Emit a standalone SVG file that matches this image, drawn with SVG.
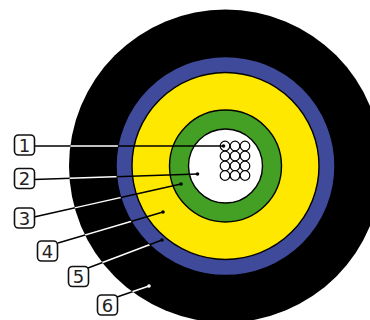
<svg xmlns="http://www.w3.org/2000/svg" width="370" height="320" viewBox="0 0 370 320">
<style>
.r{stroke:#000;stroke-width:1.400}
.s{fill:#fff;stroke:#000;stroke-width:1.200}
.l{stroke:#000;stroke-width:1.400;fill:none}
.w{stroke:#fff;stroke-width:1.400;fill:none}
.d{fill:#000}
.dw{fill:#fff}
.b{fill:#fff;stroke:#111;stroke-width:1.600}
.t{font-family:"DejaVu Sans",sans-serif;font-size:18px;fill:#222;text-anchor:middle}
</style>
<defs>
<clipPath id="ring"><path clip-rule="evenodd" d="M69 166a156.500 156.500 0 1 0 313 0a156.500 156.500 0 1 0-313 0ZM116 166a109.500 109.500 0 1 0 219 0a109.500 109.500 0 1 0-219 0Z"/></clipPath>
</defs>
<g id="cable">
<circle cx="225.500" cy="166" r="156.500" fill="#000"/>
<circle cx="225.500" cy="166" r="109.500" fill="#3f4a9b" class="r"/>
<circle cx="225.500" cy="166" r="93.500" fill="#ffe800" class="r"/>
<circle cx="225.500" cy="166" r="56" fill="#43a024" class="r"/>
<circle cx="225.500" cy="166" r="37" fill="#fff" class="r"/>
</g>
<g id="fibres">
<circle class="s" cx="225" cy="146" r="4.800"/><circle class="s" cx="235" cy="146" r="4.800"/><circle class="s" cx="245" cy="146" r="4.800"/>
<circle class="s" cx="225" cy="156" r="4.800"/><circle class="s" cx="235" cy="156" r="4.800"/><circle class="s" cx="245" cy="156" r="4.800"/>
<circle class="s" cx="225" cy="166" r="4.800"/><circle class="s" cx="235" cy="166" r="4.800"/><circle class="s" cx="245" cy="166" r="4.800"/>
<circle class="s" cx="225" cy="175.500" r="4.800"/><circle class="s" cx="235" cy="175.500" r="4.800"/><circle class="s" cx="245" cy="175.500" r="4.800"/>
</g>
<g id="connectors">
<path class="l" d="M34 146H223"/>
<path class="l" d="M34 179.500L197.500 174"/>
<path class="l" d="M34 217L181 184"/>
<path class="l" d="M58 243L163 212"/>
<path class="l" d="M88 268L162 240"/>
<path class="l" d="M117 297L149 286"/>
<g clip-path="url(#ring)">
<path class="w" d="M34 146H223"/>
<path class="w" d="M34 179.500L197.500 174"/>
<path class="w" d="M34 217L181 184"/>
<path class="w" d="M58 243L163 212"/>
<path class="w" d="M88 268L162 240"/>
<path class="w" d="M117 297L149 286"/>
</g>
<circle class="d" cx="223.500" cy="146" r="1.800"/>
<circle class="d" cx="197.500" cy="174" r="1.800"/>
<circle class="d" cx="181" cy="184" r="1.800"/>
<circle class="d" cx="163" cy="212" r="1.800"/>
<circle class="d" cx="162" cy="240" r="1.800"/>
<circle class="dw" cx="149" cy="286" r="1.800"/>
</g>
<g id="label-1"><rect class="b" x="14.500" y="135" width="20" height="20" rx="4"/><text class="t" x="24.500" y="151.500">1</text></g>
<g id="label-2"><rect class="b" x="14.500" y="168.500" width="20" height="20" rx="4"/><text class="t" x="24.500" y="185">2</text></g>
<g id="label-3"><rect class="b" x="14.500" y="208" width="20" height="20" rx="4"/><text class="t" x="24.500" y="224.500">3</text></g>
<g id="label-4"><rect class="b" x="37.500" y="241" width="20" height="20" rx="4"/><text class="t" x="47.500" y="257.500">4</text></g>
<g id="label-5"><rect class="b" x="68.500" y="266.500" width="20" height="20" rx="4"/><text class="t" x="78.500" y="283">5</text></g>
<g id="label-6"><rect class="b" x="97.500" y="295" width="20" height="20" rx="4"/><text class="t" x="107.500" y="311.500">6</text></g>
</svg>
